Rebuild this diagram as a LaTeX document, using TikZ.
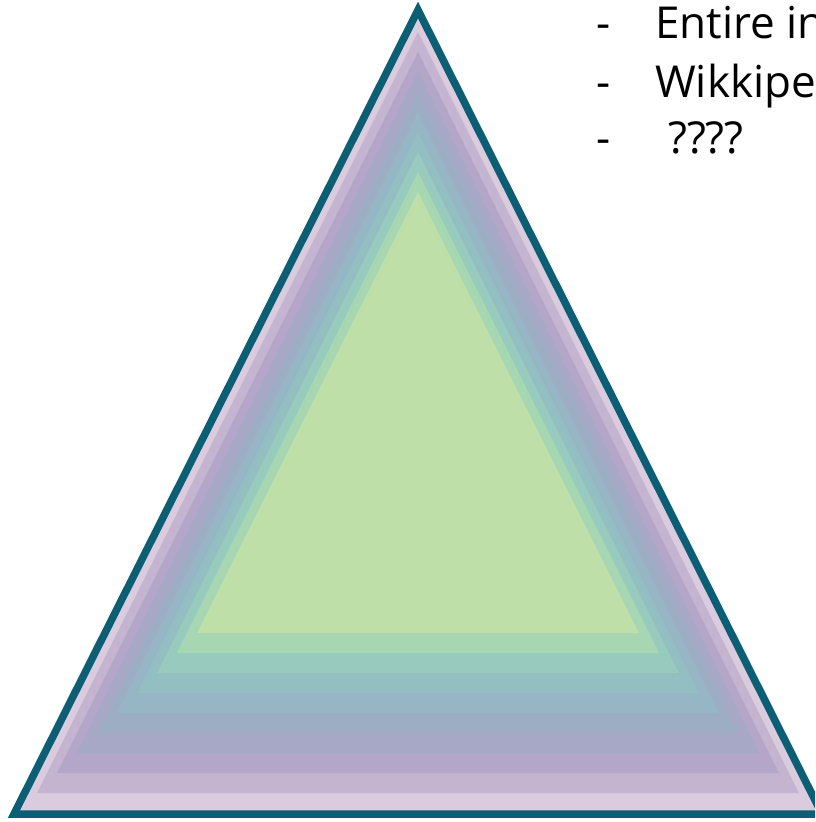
\documentclass[tikz,border=0pt]{standalone}
\usepackage{fontspec}
\setmainfont{Open Sans}
\usetikzlibrary{positioning}

\definecolor{rimteal}{HTML}{0B5E74}
\definecolor{layerA}{HTML}{DACBDE}
\definecolor{layerB}{HTML}{C4B4CF}
\definecolor{layerC}{HTML}{B4A6C8}
\definecolor{layerD}{HTML}{A7A8C6}
\definecolor{layerE}{HTML}{9DADC4}
\definecolor{layerF}{HTML}{96B5C5}
\definecolor{layerG}{HTML}{93BEC2}
\definecolor{layerH}{HTML}{98CBBD}
\definecolor{layerI}{HTML}{A7D6B3}
\definecolor{layerJ}{HTML}{BEDFA7}

\begin{document}
\begin{tikzpicture}[
  x=1pt,y=-1pt,
  rimline/.style={draw=rimteal,line width=7.5pt,line join=miter},
  listdash/.style={anchor=base west,inner sep=0pt,font=\fontsize{44}{52}\selectfont},
  listitem/.style={anchor=base west,inner sep=0pt,font=\fontsize{44}{52}\selectfont}
]
\useasboundingbox (0,0) rectangle (815,822);
\clip (0,0) rectangle (815,822);

\coordinate (apex) at (418,10);
\coordinate (baseL) at (14,814);
\coordinate (baseR) at (822,814);

% nested layers, outside in
\fill[layerA] (apex) -- (baseL) -- (baseR) -- cycle;
\foreach \k/\col in {1/layerB,2/layerC,3/layerD,4/layerE,5/layerF,6/layerG,7/layerH,8/layerI,9/layerJ}
  \fill[\col] (418,{12+20*\k}) -- ({17+20*\k},{813-20*\k}) -- ({819-20*\k},{813-20*\k}) -- cycle;

\draw[rimline] (apex) -- (baseL) -- (baseR) -- cycle;

% list at top right
\node[listdash] (dash1) at (596,38) {-};
\node[listitem] (item1) at (655,38) {Entire in};
\node[listdash] (dash2) at (596,97) {-};
\node[listitem] (item2) at (655,97) {Wikkipe};
\node[listdash] (dash3) at (596,153) {-};
\node[listitem] (item3) at (668,153) {????};

\end{tikzpicture}
\end{document}
